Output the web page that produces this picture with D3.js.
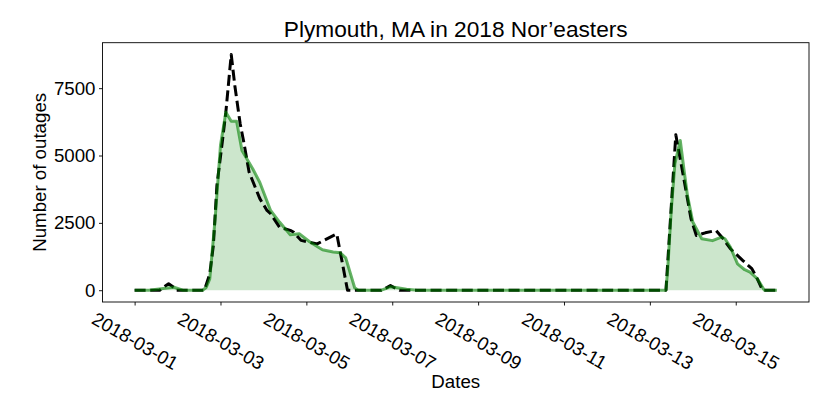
<!DOCTYPE html>
<html>
<head>
<meta charset="utf-8">
<script src="https://cdn.jsdelivr.net/npm/d3@7"></script>
<style>
  html, body { margin: 0; padding: 0; background: #fff; }
  svg { display: block; font-family: "Liberation Sans", Arial, Helvetica, sans-serif; }
</style>
</head>
<body>
<svg id="chart" width="830" height="415"></svg>
<script>
// Hours since 2018-03-01 00:00 and outage counts (green, filled series)
const greenHours  = [0, 8, 16, 22, 27, 38, 40, 42, 45, 48, 51, 54, 57, 60, 66, 70, 76, 81, 87, 92, 98, 105, 111, 115, 118, 123, 125,
                     138, 141, 143, 146, 152, 158, 297, 298, 300, 302, 305, 307, 309, 312, 317, 323, 328, 330, 333, 337, 341, 344, 348, 352, 359];
const greenValues = [0, 0, 60, 110, 0, 0, 100, 420, 2650, 5380, 6610, 6270, 6270, 5190, 4510, 4000, 2960, 2530, 2060, 2100, 1790, 1500, 1420, 1390, 1200, 90, 0,
                     0, 80, 130, 100, 40, 0, 0, 800, 3020, 4700, 5560, 4510, 3520, 2530, 1910, 1840, 1970, 1910, 1600, 980, 760, 670, 430, 0, 0];
// Black dashed series
const blackHours  = [0, 14, 16, 19, 22, 23, 39, 42, 44, 46, 49, 51, 54, 56, 59, 61, 64, 70, 74, 76, 81, 87, 89, 93, 102, 113, 119,
                     138, 141, 143, 145, 148, 297, 302.5, 307, 311, 314, 319, 325, 329, 333, 340, 345, 348, 351, 359];
const blackValues = [0, 0, 100, 240, 100, 0, 0, 600, 1660, 3890, 5500, 6610, 8750, 7600, 6180, 5500, 4380, 3400, 2960, 2840, 2340, 2220, 2150, 1850, 1720, 2090, 0,
                     0, 100, 175, 100, 0, 0, 5770, 4140, 2650, 2030, 2130, 2220, 1910, 1540, 1100, 800, 430, 0, 0];
const yTickValues = [0, 2500, 5000, 7500];
const xTickDates  = ["2018-03-01", "2018-03-03", "2018-03-05", "2018-03-07", "2018-03-09", "2018-03-11", "2018-03-13", "2018-03-15"];
const titleText = "Plymouth, MA in 2018 Nor\u2019easters";
const xLabelText = "Dates";
const yLabelText = "Number of outages";

const HOUR = 3600 * 1000;
const t0 = Date.UTC(2018, 2, 1);
const toDate = h => new Date(t0 + h * HOUR);
const green = greenHours.map((h, i) => ({ t: toDate(h), v: greenValues[i] }));
const black = blackHours.map((h, i) => ({ t: toDate(h), v: blackValues[i] }));

const svg = d3.select("#chart");
const L = 102.5, R = 809, T = 42.7, B = 302;

// matplotlib-like 5% margins
const allH = greenHours.concat(blackHours);
const hMin = d3.min(allH), hMax = d3.max(allH);
const hPad = (hMax - hMin) * 0.05;
const vMax = d3.max(greenValues.concat(blackValues)), vMin = 0;
const vPad = (vMax - vMin) * 0.05;

const x = d3.scaleUtc().domain([toDate(hMin - hPad), toDate(hMax + hPad)]).range([L, R]);
const y = d3.scaleLinear().domain([vMin - vPad, vMax + vPad]).range([B, T]);

const area = d3.area().x(d => x(d.t)).y0(y(0)).y1(d => y(d.v));
const line = d3.line().x(d => x(d.t)).y(d => y(d.v));

svg.append("path").datum(green).attr("d", area)
  .attr("fill", "green").attr("fill-opacity", 0.2);
svg.append("path").datum(black).attr("d", line)
  .attr("fill", "none").attr("stroke", "#000").attr("stroke-width", 3)
  .attr("stroke-dasharray", "11,4.6").attr("stroke-linejoin", "round");
svg.append("path").datum(green).attr("d", line)
  .attr("fill", "none").attr("stroke", "green").attr("stroke-opacity", 0.6)
  .attr("stroke-width", 3).attr("stroke-linejoin", "round");

// frame
svg.append("rect").attr("x", L).attr("y", T).attr("width", R - L).attr("height", B - T)
  .attr("fill", "none").attr("stroke", "#000").attr("stroke-width", 0.9);

const fs = 18.7;
// y axis
const yAxis = d3.axisLeft(y).tickValues(yTickValues).tickSize(3.5).tickPadding(3.5).tickFormat(d3.format("d"));
const gy = svg.append("g").attr("transform", `translate(${L},0)`).call(yAxis);
gy.select(".domain").remove();
gy.selectAll(".tick line").attr("stroke", "#000").attr("stroke-width", 0.9);
gy.selectAll(".tick text").attr("font-size", fs).attr("fill", "#000")
  .attr("font-family", "'Liberation Sans', Arial, sans-serif");

// x axis
const xTicks = xTickDates.map(s => new Date(s + "T00:00:00Z"));
const xAxis = d3.axisBottom(x).tickValues(xTicks).tickSize(3.5).tickFormat(d3.utcFormat("%Y-%m-%d"));
const gx = svg.append("g").attr("transform", `translate(0,${B})`).call(xAxis);
gx.select(".domain").remove();
gx.selectAll(".tick line").attr("stroke", "#000").attr("stroke-width", 0.9);
const ang = 30 * Math.PI / 180;
gx.selectAll(".tick text").each(function () {
  const t = d3.select(this);
  t.attr("font-size", fs).attr("fill", "#000")
   .attr("font-family", "'Liberation Sans', Arial, sans-serif")
   .attr("y", null).attr("dy", null)
   .attr("text-anchor", "middle").attr("dominant-baseline", "central");
  const w = this.getComputedTextLength();
  const h = fs * 1.0;
  const bh = w * Math.sin(ang) + h * Math.cos(ang);
  t.attr("transform", `translate(0,${3.5 + 3.5 + bh / 2}) rotate(30)`);
});

// labels
svg.append("text").attr("x", (L + R) / 2).attr("y", 388).attr("text-anchor", "middle")
  .attr("font-size", fs).attr("fill", "#000").text(xLabelText);
svg.append("text").attr("transform", `translate(46,${(T + B) / 2}) rotate(-90)`).attr("text-anchor", "middle")
  .attr("font-size", fs).attr("fill", "#000").text(yLabelText);
svg.append("text").attr("x", (L + R) / 2).attr("y", 37).attr("text-anchor", "middle")
  .attr("font-size", 22.7).attr("fill", "#000").text(titleText);
</script>
</body>
</html>
